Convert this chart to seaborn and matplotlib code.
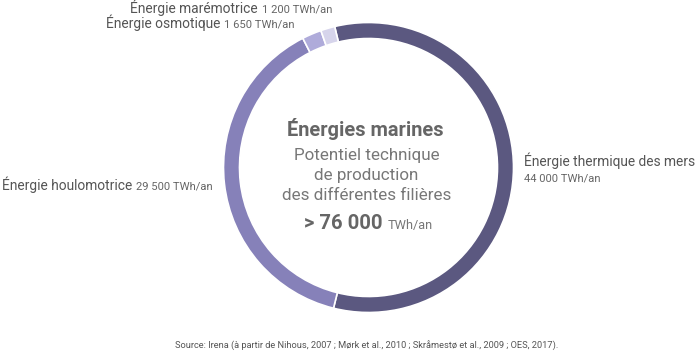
import matplotlib
matplotlib.use("Agg")
import matplotlib.pyplot as plt
import seaborn as sns

# ---- data ----
categories = ["Énergie thermique des mers", "Énergie houlomotrice",
              "Énergie osmotique", "Énergie marémotrice"]
values = [44000, 29500, 1650, 1200]
value_labels = ["44 000 TWh/an", "29 500 TWh/an", "1 650 TWh/an", "1 200 TWh/an"]
colors = ["#5b5880", "#8681b9", "#afabda", "#d6d4eb"]
title_lines = ["Énergies marines"]
subtitle_lines = ["Potentiel technique", "de production", "des différentes filières"]
total_label = "> 76 000"
total_unit = "TWh/an"
source = "Source: Irena (à partir de Nihous, 2007 ; Mørk et al., 2010 ; Skråmestø et al., 2009 ; OES, 2017)."

sns.set_theme(style="white")
plt.rcParams["font.family"] = ["Roboto", "DejaVu Sans"]

W, H = 700, 362
fig = plt.figure(figsize=(W / 100, H / 100), dpi=100)
fig.patch.set_facecolor("white")

def fx(x):
    return x / W

def fy(y):
    return 1 - y / H

def pt(px):
    return px * 72 / 100

# donut
cx, cy, R = 368.5, 167.5, 145
ax = fig.add_axes([fx(cx - R), fy(cy + R), 2 * R / W, 2 * R / H])
ax.pie(values, colors=colors, startangle=103.5, counterclock=False, radius=1,
       wedgeprops=dict(width=16 / R, edgecolor="white", linewidth=1.2))
ax.set_xlim(-1, 1)
ax.set_ylim(-1, 1)
ax.set_aspect("equal")
ax.axis("off")

label_color = "#555555"
num_color = "#666666"
NAME_PX = 13.8
NUM_PX = 11.2

def label(x, y, name, num, gap=4):
    t = fig.text(fx(x), fy(y), name, fontsize=pt(NAME_PX), color=label_color,
                 ha="left", va="baseline")
    fig.canvas.draw()
    bb = t.get_window_extent()
    fig.text((bb.x1 + gap) / W, fy(y), num, fontsize=pt(NUM_PX), color=num_color,
             ha="left", va="baseline")

label(130, 12.5, categories[3], value_labels[3])
label(106, 28, categories[2], value_labels[2])
label(2, 190, categories[1], value_labels[1])
fig.text(fx(524), fy(166), categories[0], fontsize=pt(NAME_PX), color=label_color,
         ha="left", va="baseline")
fig.text(fx(524), fy(181), value_labels[0], fontsize=pt(NUM_PX), color=num_color,
         ha="left", va="baseline")

# center text
fig.text(fx(cx - 3), fy(136), title_lines[0], fontsize=pt(20), color="#666666",
         fontweight="bold", ha="center", va="baseline")
for yy, s in zip([160, 180, 200], subtitle_lines):
    fig.text(fx(cx - 2), fy(yy), s, fontsize=pt(17), color="#777777",
             ha="center", va="baseline")
t = fig.text(fx(304), fy(229), total_label, fontsize=pt(20.3), color="#666666",
             fontweight="bold", ha="left", va="baseline")
fig.canvas.draw()
bb = t.get_window_extent()
fig.text((bb.x1 + 5) / W, fy(229), total_unit, fontsize=pt(12.8), color="#777777",
         ha="left", va="baseline")

fig.text(fx(367), fy(349), source, fontsize=pt(9.3), color="#555555",
         ha="center", va="baseline")

fig.savefig("out.png", dpi=100, facecolor="white")
